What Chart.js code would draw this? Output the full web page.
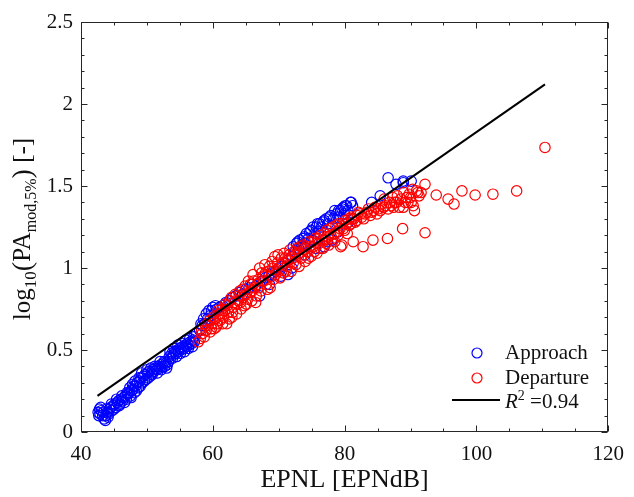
<!DOCTYPE html>
<html>
<head>
<meta charset="utf-8">
<script src="https://cdn.jsdelivr.net/npm/chart.js@4.4.0/dist/chart.umd.min.js"></script>
<style>
  html, body { margin: 0; padding: 0; background: #fff; }
  canvas { display: block; }
</style>
</head>
<body>
<canvas id="c" width="634" height="497"></canvas>
<script>
// ---- data: [EPNL, log10(PA)] ----
const approach = [
  [42.6,0.12],[42.7,0.10],[42.8,0.14],[42.9,0.11],[43.0,0.15],[43.1,0.13],[43.3,0.10],[43.4,0.12],
  [43.5,0.08],[43.7,0.07],[43.8,0.10],[43.9,0.14],[44.0,0.12],[44.1,0.09],[44.2,0.11],[44.3,0.14],
  [44.5,0.15],[44.6,0.17],[44.7,0.13],[44.9,0.16],[45.0,0.14],[45.1,0.17],[45.3,0.15],[45.4,0.20],
  [45.5,0.18],[45.7,0.19],[45.8,0.16],[45.9,0.17],[46.1,0.20],[46.2,0.22],[46.3,0.19],[46.5,0.21],
  [46.6,0.18],[46.7,0.22],[46.9,0.20],[47.0,0.24],[47.1,0.23],[47.3,0.24],[47.4,0.27],[47.5,0.22],
  [47.6,0.21],[47.7,0.25],[47.8,0.29],[47.9,0.26],[48.0,0.28],[48.1,0.24],[48.2,0.31],[48.3,0.28],
  [48.4,0.25],[48.5,0.30],[48.7,0.27],[48.8,0.33],[48.9,0.31],[49.0,0.28],[49.1,0.33],[49.2,0.36],
  [49.3,0.30],[49.5,0.34],[49.6,0.31],[49.7,0.35],[49.9,0.32],[50.0,0.38],[50.1,0.36],[50.2,0.33],
  [50.3,0.37],[50.5,0.34],[50.6,0.39],[50.7,0.36],[50.8,0.35],[50.9,0.38],[51.1,0.37],[51.2,0.40],
  [51.3,0.39],[51.5,0.38],[51.6,0.36],[51.7,0.40],[51.9,0.39],[52.0,0.43],[52.1,0.41],[52.2,0.38],
  [52.3,0.40],[52.5,0.42],[52.6,0.43],[52.7,0.40],[52.9,0.42],[53.0,0.39],[53.1,0.41],[53.3,0.43],
  [53.4,0.46],[53.5,0.49],[53.6,0.45],[53.8,0.48],[53.9,0.45],[54.0,0.47],[54.1,0.51],[54.2,0.49],
  [54.4,0.48],[54.5,0.46],[54.6,0.50],[54.7,0.53],[54.8,0.49],[55.0,0.51],[55.1,0.48],[55.2,0.50],
  [55.3,0.54],[55.4,0.52],[55.6,0.51],[55.7,0.49],[55.8,0.53],[55.9,0.56],[56.0,0.52],[56.2,0.54],
  [56.3,0.51],[56.4,0.53],[56.5,0.57],[56.6,0.55],[56.8,0.54],[56.9,0.52],[57.0,0.56],[57.1,0.58],
  [57.2,0.55],
  [57.5,0.60],[58.0,0.62],[58.2,0.66],[58.4,0.65],[58.6,0.69],[58.8,0.66],[59.0,0.72],[59.2,0.69],
  [59.4,0.74],[59.6,0.71],[59.8,0.74],[60.0,0.76],[60.2,0.72],[60.4,0.77],[60.6,0.75],[61.0,0.76],
  [61.5,0.77],[62.0,0.79],[62.5,0.80],[63.0,0.82],[63.5,0.83],[64.0,0.85],[64.5,0.84],[65.0,0.87],
  [65.5,0.88],[66.0,0.90],[66.5,0.89],[67.1,0.83],[67.5,0.92],[68.0,0.94],[68.5,0.95],[68.6,0.90],
  [69.0,0.97],[69.5,0.98],[70.0,1.00],[70.3,0.95],[70.5,1.01],[71.0,1.03],[71.4,0.96],[71.5,1.05],
  [72.0,1.07],[72.0,1.00],[72.2,1.13],[72.5,1.10],[72.7,1.15],[72.9,1.16],[73.0,1.12],[73.2,1.17],
  [73.5,1.14],[73.7,1.18],[73.9,1.19],[74.0,1.15],[74.0,1.08],[74.2,1.21],[74.5,1.18],[74.7,1.22],
  [74.9,1.23],[75.0,1.17],[75.2,1.25],[75.5,1.21],[75.6,1.12],[75.7,1.25],[75.9,1.27],[76.0,1.22],
  [76.2,1.27],[76.5,1.25],[76.7,1.28],[76.9,1.29],[76.9,1.13],[77.2,1.30],[77.4,1.16],[77.5,1.27],
  [77.7,1.31],[77.9,1.32],[78.1,1.17],[78.3,1.30],[78.5,1.35],[78.8,1.33],[79.0,1.31],[79.0,1.22],
  [79.1,1.35],[79.4,1.35],[79.6,1.36],[79.8,1.37],[80.0,1.33],[80.1,1.38],[80.3,1.38],[80.5,1.35],
  [80.6,1.28],[80.9,1.40],[81.0,1.40],[81.2,1.38],[84.1,1.40],[85.4,1.44],[86.6,1.55],[87.8,1.51],
  [88.9,1.52],[88.9,1.53],[90.1,1.53]
];

const departure = [
  [57.8,0.55],[58.1,0.57],[58.3,0.62],[58.4,0.60],[58.7,0.58],[58.9,0.65],[59.0,0.62],[59.3,0.65],
  [59.5,0.68],[59.6,0.61],[59.8,0.63],[59.9,0.66],[60.1,0.70],[60.2,0.63],[60.4,0.69],[60.5,0.64],
  [60.7,0.66],[60.8,0.74],[60.9,0.72],[61.1,0.68],[61.2,0.72],[61.4,0.75],[61.5,0.66],[61.6,0.70],
  [61.8,0.74],[61.9,0.78],[62.1,0.66],[62.2,0.77],[62.4,0.73],[62.5,0.69],[62.6,0.80],[62.8,0.82],
  [62.9,0.70],[63.0,0.73],[63.1,0.76],[63.3,0.79],[63.4,0.84],[63.6,0.72],[63.7,0.78],[63.9,0.80],
  [64.0,0.83],[64.1,0.86],[64.2,0.79],[64.3,0.75],[64.5,0.87],[64.6,0.82],[64.8,0.77],[64.9,0.89],
  [65.0,0.84],[65.1,0.78],[65.3,0.81],[65.4,0.92],[65.6,0.85],[65.7,0.90],[65.9,0.80],[66.0,0.86],
  [66.1,0.96],[66.2,0.92],[66.3,0.88],[66.5,0.79],[66.6,0.83],[66.8,0.90],[66.9,0.93],[67.0,0.88],
  [67.1,1.00],[67.3,0.86],[67.4,0.97],[67.6,0.95],[67.7,0.92],[67.9,1.02],[68.0,0.97],[68.1,0.90],
  [68.3,0.87],[68.4,0.98],[68.6,1.01],[68.7,0.88],[68.9,0.95],[69.0,1.04],[69.1,1.00],[69.2,0.93],
  [69.4,1.07],[69.5,0.96],[69.7,0.99],[69.8,1.03],[69.9,1.08],[70.0,0.98],[70.2,0.94],[70.4,1.06],
  [70.5,1.02],[70.7,0.97],[70.8,1.09],[71.0,1.06],[71.1,0.98],[71.3,1.01],[71.4,1.05],[71.6,1.08],
  [71.7,1.11],[71.9,0.98],[72.0,1.06],[72.2,1.03],[72.3,1.10],[72.5,1.08],[72.6,1.02],[72.8,1.12],
  [73.0,1.09],[73.1,1.01],[73.3,1.13],[73.4,1.06],[73.6,1.08],[73.7,1.14],[73.9,1.11],[74.0,1.04],
  [74.2,1.13],[74.3,1.10],[74.5,1.06],[74.6,1.16],[74.8,1.13],[74.9,1.07],[75.1,1.16],[75.2,1.13],
  [75.4,1.10],[75.5,1.18],[75.7,1.15],[75.8,1.09],[76.0,1.18],[76.1,1.15],[76.3,1.12],[76.4,1.20],
  [76.6,1.17],[76.7,1.12],[76.9,1.21],[77.0,1.17],[77.2,1.15],[77.3,1.23],[77.5,1.19],[77.6,1.14],
  [77.8,1.24],[77.9,1.20],[78.1,1.18],[78.2,1.25],[78.4,1.21],[78.5,1.16],[78.7,1.26],[78.8,1.22],
  [79.0,1.20],[79.1,1.27],[79.3,1.24],[79.4,1.13],[79.6,1.14],[79.7,1.27],[79.8,1.24],[80.0,1.23],
  [80.1,1.29],[80.3,1.27],[80.4,1.21],[80.6,1.30],[80.7,1.26],[81.0,1.31],[81.0,1.27],[81.1,1.30],
  [81.3,1.16],[81.4,1.30],[81.6,1.28],[81.8,1.29],[81.9,1.32],[82.1,1.34],[82.4,1.33],[82.6,1.31],
  [82.8,1.13],[82.9,1.30],[83.1,1.33],[83.4,1.34],[83.6,1.36],[83.9,1.32],[84.1,1.34],[84.3,1.17],
  [84.4,1.35],[84.6,1.37],[84.9,1.33],[85.1,1.36],[85.4,1.35],[85.6,1.39],[85.9,1.37],[86.0,1.42],
  [86.2,1.38],[86.5,1.18],[86.6,1.36],[86.8,1.40],[87.1,1.38],[87.3,1.43],[87.4,1.37],[87.6,1.40],
  [87.9,1.40],[88.0,1.44],[88.3,1.37],[88.5,1.42],[88.8,1.24],[88.9,1.37],[89.0,1.46],[89.2,1.40],
  [89.4,1.43],[89.6,1.40],[89.8,1.45],[90.0,1.43],[90.1,1.40],[90.3,1.48],[90.4,1.38],[90.6,1.35],
  [90.9,1.47],[91.1,1.46],[91.3,1.44],[91.6,1.46],[92.2,1.51],[92.2,1.215],[93.9,1.445],[95.7,1.42],
  [96.6,1.39],[97.8,1.47],[99.8,1.445],[102.5,1.45],[106.1,1.47],[110.4,1.735]
];

// least-squares fit line end points
const fitX = [42.5, 110.4];
const fitY = [0.22, 2.12];

const xTicks = [40, 60, 80, 100, 120];
const yTicks = [0, 0.5, 1, 1.5, 2, 2.5];

const FONT = "'Liberation Serif', 'Times New Roman', serif";
const INK = '#262626';

function fontStr(p) {
  return (p.italic ? 'italic ' : '') + p.size + 'px ' + FONT;
}

// draw a row of text pieces (sub/superscripts) as one string
function drawRich(ctx, parts, x, y, align) {
  let w = 0;
  parts.forEach(p => { ctx.font = fontStr(p); p.w = ctx.measureText(p.t).width; w += p.w; });
  let cx = align === 'center' ? x - w / 2 : x;
  parts.forEach(p => {
    ctx.font = fontStr(p);
    ctx.fillText(p.t, cx, y + (p.dy || 0));
    cx += p.w;
  });
}

// box, inward ticks, axis titles and legend
const framePlugin = {
  id: 'frame',
  afterDraw(chart) {
    const ctx = chart.ctx;
    const a = chart.chartArea;
    const xs = chart.scales.x, ys = chart.scales.y;
    ctx.save();
    ctx.strokeStyle = INK;
    ctx.lineWidth = 1;
    const L = Math.round(a.left) + 0.5, R = Math.round(a.right) - 0.5;
    const T = Math.round(a.top) + 0.5, B = Math.round(a.bottom) - 0.5;
    ctx.strokeRect(L, T, R - L, B - T);

    ctx.beginPath();
    for (let v = 40; v <= 120; v += 5) {
      const px = Math.round(xs.getPixelForValue(v)) + 0.5;
      const len = v % 20 === 0 ? 6 : 3;
      ctx.moveTo(px, B); ctx.lineTo(px, B - len);
      ctx.moveTo(px, T); ctx.lineTo(px, T + len);
    }
    for (let i = 0; i <= 25; i++) {
      const py = Math.round(ys.getPixelForValue(i / 10)) + 0.5;
      const len = i % 5 === 0 ? 6 : 3;
      ctx.moveTo(L, py); ctx.lineTo(L + len, py);
      ctx.moveTo(R, py); ctx.lineTo(R - len, py);
    }
    ctx.stroke();

    // axis titles
    ctx.fillStyle = '#111';
    ctx.textBaseline = 'alphabetic';
    drawRich(ctx, [{ t: 'EPNL [EPNdB]', size: 26 }], (a.left + a.right) / 2, 487, 'center');

    ctx.save();
    ctx.translate(30, (a.top + a.bottom) / 2 + 2);
    ctx.rotate(-Math.PI / 2);
    drawRich(ctx, [
      { t: 'log', size: 25 },
      { t: '10', size: 17, dy: 6 },
      { t: '(', size: 28, dy: 1 },
      { t: 'PA', size: 25 },
      { t: 'mod,5%', size: 16, dy: 6 },
      { t: ')', size: 28, dy: 1 },
      { t: ' [-]', size: 25 }
    ], 0, 0, 'center');
    ctx.restore();

    // legend (lower right, inside axes)
    ctx.lineWidth = 1.2;
    ctx.strokeStyle = '#0000ff';
    ctx.beginPath(); ctx.arc(477, 353, 5, 0, Math.PI * 2); ctx.stroke();
    ctx.strokeStyle = '#ff0000';
    ctx.beginPath(); ctx.arc(477, 378, 5, 0, Math.PI * 2); ctx.stroke();
    ctx.strokeStyle = '#000';
    ctx.lineWidth = 2;
    ctx.beginPath(); ctx.moveTo(452, 400); ctx.lineTo(500, 400); ctx.stroke();

    drawRich(ctx, [{ t: 'Approach', size: 21 }], 505, 359, 'left');
    drawRich(ctx, [{ t: 'Departure', size: 21 }], 505, 384, 'left');
    drawRich(ctx, [
      { t: 'R', size: 21, italic: true },
      { t: '2', size: 14, dy: -8 },
      { t: ' =0.94', size: 21 }
    ], 505, 408, 'left');
    ctx.restore();
  }
};

const toPts = arr => arr.map(p => ({ x: p[0], y: p[1] }));

new Chart(document.getElementById('c'), {
  type: 'scatter',
  data: {
    datasets: [
      {
        label: 'R^2 = 0.94',
        type: 'line',
        data: fitX.map((x, i) => ({ x: x, y: fitY[i] })),
        borderColor: '#000',
        borderWidth: 2,
        pointRadius: 0,
        fill: false,
        order: 0
      },
      {
        label: 'Departure',
        data: toPts(departure),
        pointStyle: 'circle',
        pointRadius: 5.2,
        borderWidth: 1.2,
        borderColor: '#ff0000',
        backgroundColor: 'rgba(0,0,0,0)',
        order: 1
      },
      {
        label: 'Approach',
        data: toPts(approach),
        pointStyle: 'circle',
        pointRadius: 5.2,
        borderWidth: 1.2,
        borderColor: '#0000ff',
        backgroundColor: 'rgba(0,0,0,0)',
        order: 2
      }
    ]
  },
  options: {
    responsive: false,
    animation: false,
    devicePixelRatio: 1,
    events: [],
    layout: { padding: { left: 0, right: 20, top: 22, bottom: 0 } },
    plugins: { legend: { display: false }, tooltip: { enabled: false } },
    scales: {
      x: {
        type: 'linear',
        min: 40, max: 120,
        afterFit: s => { s.height = 65; },
        afterBuildTicks: s => { s.ticks = xTicks.map(v => ({ value: v })); },
        grid: { display: false, drawTicks: false },
        border: { display: false },
        ticks: { color: '#111', padding: 10, font: { family: FONT, size: 21 }, callback: v => String(v) }
      },
      y: {
        type: 'linear',
        min: 0, max: 2.5,
        afterFit: s => { s.width = 81; },
        afterBuildTicks: s => { s.ticks = yTicks.map(v => ({ value: v })); },
        grid: { display: false, drawTicks: false },
        border: { display: false },
        ticks: { color: '#111', padding: 8, font: { family: FONT, size: 21 }, callback: v => String(v) }
      }
    }
  },
  plugins: [framePlugin]
});
</script>
</body>
</html>
